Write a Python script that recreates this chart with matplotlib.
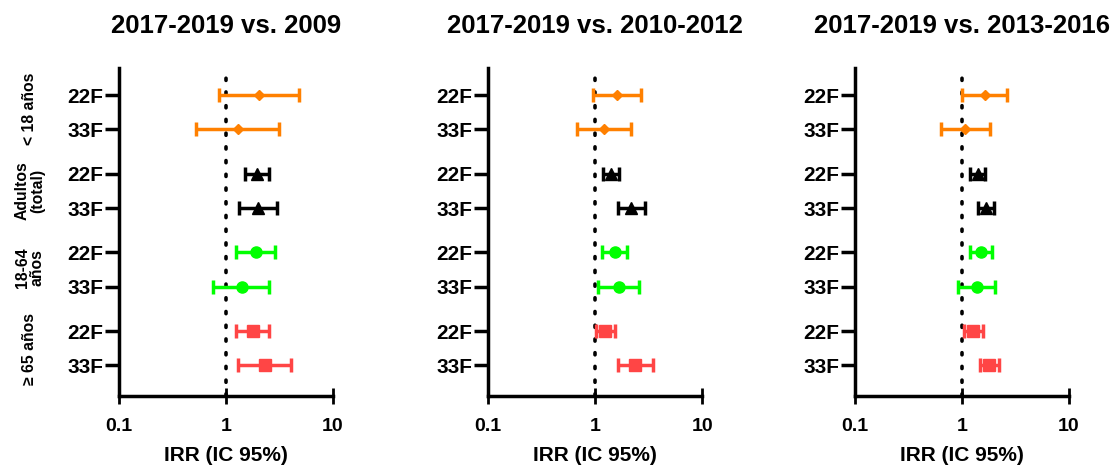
import numpy as np
import matplotlib
matplotlib.use('Agg')
import matplotlib.pyplot as plt

plt.rcParams['font.family'] = ['Liberation Sans', 'DejaVu Sans']
plt.rcParams['font.weight'] = 'bold'

# DATOS
titles = ['2017-2019 vs. 2009', '2017-2019 vs. 2010-2012', '2017-2019 vs. 2013-2016']
groups = ['< 18 años', 'Adultos\n(total)', '18-64\naños', '\u2265 65 años']
serotypes = ['22F', '33F']

# IRR, limite inferior, limite superior (orden: grupo x serotipo)
irr_2009 = [2.03, 1.29, 1.94, 1.98, 1.89, 1.40, 1.80, 2.31]
low_2009 = [0.86, 0.53, 1.50, 1.32, 1.25, 0.76, 1.25, 1.29]
up_2009 = [4.81, 3.15, 2.54, 3.00, 2.87, 2.54, 2.51, 4.05]

irr_1012 = [1.59, 1.20, 1.41, 2.18, 1.52, 1.67, 1.24, 2.34]
low_1012 = [0.96, 0.68, 1.19, 1.63, 1.17, 1.07, 1.01, 1.63]
up_1012 = [2.66, 2.18, 1.68, 2.90, 1.98, 2.59, 1.53, 3.45]

irr_1316 = [1.65, 1.06, 1.41, 1.68, 1.51, 1.37, 1.28, 1.81]
low_1316 = [1.01, 0.64, 1.19, 1.42, 1.19, 0.92, 1.05, 1.48]
up_1316 = [2.64, 1.84, 1.65, 1.98, 1.92, 2.02, 1.56, 2.22]

panels = [(irr_2009, low_2009, up_2009),
          (irr_1012, low_1012, up_1012),
          (irr_1316, low_1316, up_1316)]

colors = ['#FF8000', 'black', '#00FF00', '#FF4545']
markers = ['D', '^', 'o', 's']
msizes = [5, 8, 8, 8]

# posiciones en y
ypos = []
for g in range(len(groups)):
    for s in range(len(serotypes)):
        ypos.append(g * 2.3 + s)
ylabels = serotypes * len(groups)

fig = plt.figure(figsize=(11.16, 4.69), dpi=100)
lefts = [0.1066, 0.4373, 0.766]
for p, (irr, lo, up) in enumerate(panels):
    ax = fig.add_axes([lefts[p], 0.1557, 0.1918, 0.6993])
    ax.set_xscale('log')
    ax.set_xlim(0.1, 10)
    ax.set_ylim(8.8, -0.8)
    ax.axvline(1, color='black', linestyle=(0, (0.6, 3.2)), linewidth=2.6,
               dash_capstyle='round', zorder=1)
    for i in range(len(irr)):
        g = i // 2
        ax.errorbar(irr[i], ypos[i], xerr=[[irr[i] - lo[i]], [up[i] - irr[i]]],
                    fmt=markers[g], color=colors[g], ms=msizes[g],
                    elinewidth=2.5, capsize=5, capthick=2.5, zorder=3)
    ax.set_yticks(ypos)
    ax.set_yticklabels(ylabels, fontsize=15, fontweight='bold')
    ax.set_xticks([0.1, 1, 10])
    ax.set_xticklabels(['0.1', '1', '10'], fontsize=14, fontweight='bold')
    ax.xaxis.set_minor_locator(matplotlib.ticker.NullLocator())
    ax.tick_params(axis='y', length=10, width=2.5, pad=1)
    ax.tick_params(axis='x', direction='inout', length=12, width=2, pad=10)
    for sp in ['top', 'right']:
        ax.spines[sp].set_visible(False)
    for sp in ['left', 'bottom']:
        ax.spines[sp].set_linewidth(2.5)
    ax.set_xlabel('IRR (IC 95%)', fontsize=15, fontweight='bold', labelpad=8)
    ax.set_title(titles[p], fontsize=18.5, fontweight='bold', pad=25)

# etiquetas de grupo
group_y = [109, 191, 268, 349]
for g in range(len(groups)):
    fig.text(30 / 1116, 1 - group_y[g] / 469, groups[g], rotation=90,
             ha='center', va='center', fontsize=11.3, fontweight='bold',
             linespacing=1.0)

plt.savefig('out.png', dpi=100)
